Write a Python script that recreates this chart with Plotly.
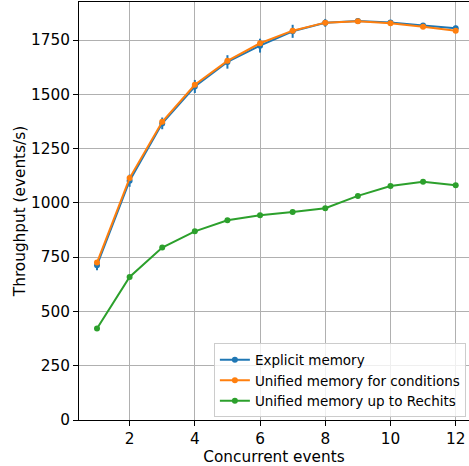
import plotly.graph_objects as go

concurrent_events = [1, 2, 3, 4, 5, 6, 7, 8, 9, 10, 11, 12]

explicit_memory = [713, 1102, 1366, 1536, 1649, 1724, 1790, 1829, 1838, 1831, 1817, 1804]
explicit_memory_err = [23, 28, 27, 30, 31, 32, 30, 18, 13, 11, 10, 12]

unified_conditions = [725, 1114, 1373, 1544, 1654, 1735, 1793, 1830, 1836, 1827, 1811, 1793]
unified_conditions_err = [8, 8, 8, 8, 8, 8, 8, 6, 6, 6, 6, 6]

unified_rechits = [421, 659, 794, 869, 920, 943, 958, 975, 1032, 1078, 1097, 1081]
unified_rechits_err = [4, 5, 5, 5, 5, 5, 5, 5, 5, 5, 5, 5]

series_names = ["Explicit memory", "Unified memory for conditions", "Unified memory up to Rechits"]
series_colors = ["#1f77b4", "#ff7f0e", "#2ca02c"]
series_values = [explicit_memory, unified_conditions, unified_rechits]
series_errors = [explicit_memory_err, unified_conditions_err, unified_rechits_err]

y_ticks = [0, 250, 500, 750, 1000, 1250, 1500, 1750]
x_ticks = [2, 4, 6, 8, 10, 12]

fig = go.Figure()
for name, color, vals, errs in zip(series_names, series_colors, series_values, series_errors):
    fig.add_trace(go.Scatter(
        x=concurrent_events, y=vals, name=name, mode="lines+markers",
        line=dict(color=color, width=2),
        marker=dict(color=color, size=6),
        error_y=dict(type="data", array=errs, visible=True, color=color, thickness=2, width=0),
    ))

font_family = "DejaVu Sans"
fig.update_layout(
    width=469, height=466,
    margin=dict(l=79, r=0, t=2, b=46, autoexpand=False),
    plot_bgcolor="white", paper_bgcolor="white",
    font=dict(family=font_family, size=15, color="black"),
    showlegend=True,
    legend=dict(
        x=0.992, y=0.006, xanchor="right", yanchor="bottom",
        bgcolor="rgba(255,255,255,0.8)", bordercolor="#cccccc", borderwidth=1,
        font=dict(family=font_family, size=13.5, color="black"),
        tracegroupgap=0, itemwidth=30,
    ),
    xaxis=dict(
        range=[0.448, 12.408], tickvals=x_ticks, ticktext=[str(v) for v in x_ticks],
        showgrid=True, gridcolor="#b0b0b0", gridwidth=1,
        showline=True, linecolor="black", linewidth=1, mirror=True,
        ticks="outside", ticklen=5, tickcolor="black", tickwidth=1,
        tickfont=dict(size=15.3), automargin=False,
        title=dict(text="Concurrent events", font=dict(size=15.3), standoff=4),
        zeroline=False,
    ),
    yaxis=dict(
        range=[0, 1925], tickvals=y_ticks, ticktext=[str(v) for v in y_ticks],
        showgrid=True, gridcolor="#b0b0b0", gridwidth=1,
        showline=True, linecolor="black", linewidth=1, mirror=False,
        ticks="outside", ticklen=5, tickcolor="black", tickwidth=1,
        tickfont=dict(size=15.3), automargin=False,
        title=dict(text="Throughput (events/s)", font=dict(size=15.3), standoff=1),
        zeroline=False,
    ),
)

fig.write_html(
    "out.html",
    config={"displayModeBar": False},
    post_script="document.body.style.margin='0';document.body.style.overflow='hidden';",
)
